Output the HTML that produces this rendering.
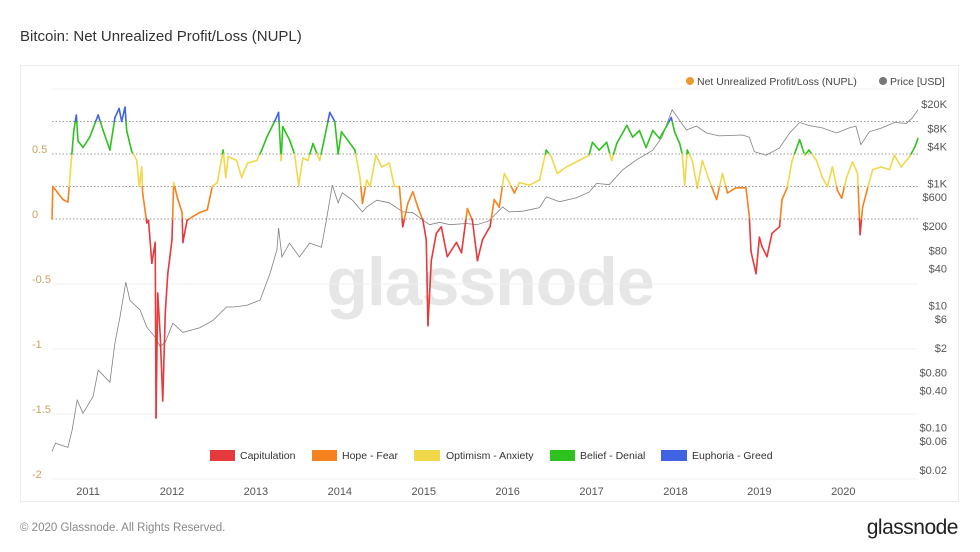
<!DOCTYPE html>
<html><head><meta charset="utf-8"><style>
body{margin:0;background:#fff;width:980px;height:552px;overflow:hidden;font-family:"Liberation Sans",sans-serif}
svg{position:absolute;left:0;top:0}
</style></head><body>
<svg id="chart" width="980" height="552" viewBox="0 0 980 552">
<text x="20" y="41" font-size="15" fill="#333">Bitcoin: Net Unrealized Profit/Loss (NUPL)</text>
<rect x="20.5" y="65.5" width="938" height="436" fill="#fff" stroke="#ececec"/>
<text x="490" y="305" font-size="68" fill="#e6e6e6" text-anchor="middle" font-weight="bold" letter-spacing="-1">glassnode</text>
<g id="grid"></g>
<g id="axes"></g>
<g id="price"></g>
<g id="nupl"></g>
<g>
<circle cx="690" cy="81" r="4" fill="#f0962e"/>
<text x="697" y="85" font-size="10.5" fill="#444">Net Unrealized Profit/Loss (NUPL)</text>
<circle cx="883" cy="81" r="4" fill="#777"/>
<text x="890" y="85" font-size="10.5" fill="#444">Price [USD]</text>
</g>
<g>
<rect x="210" y="450" width="25" height="11" fill="#e5393b"/>
<text x="240" y="459" font-size="10.5" fill="#333">Capitulation</text>
<rect x="312" y="450" width="25" height="11" fill="#f5821f"/>
<text x="342" y="459" font-size="10.5" fill="#333">Hope - Fear</text>
<rect x="414" y="450" width="26" height="11" fill="#f0d84a"/>
<text x="446" y="459" font-size="10.5" fill="#333">Optimism - Anxiety</text>
<rect x="550" y="450" width="25" height="11" fill="#2ec21e"/>
<text x="580" y="459" font-size="10.5" fill="#333">Belief - Denial</text>
<rect x="661" y="450" width="26" height="11" fill="#3f63e3"/>
<text x="692" y="459" font-size="10.5" fill="#333">Euphoria - Greed</text>
</g>
<text x="20" y="531" font-size="11.5" fill="#888">© 2020 Glassnode. All Rights Reserved.</text>
<text x="958" y="534" font-size="21" fill="#222" text-anchor="end" letter-spacing="-0.5">glassnode</text>
</svg>
<script>
const nuplDates=[2010.57,2010.58,2010.64,2010.70,2010.76,2010.80,2010.83,2010.86,2010.88,2010.94,2011.02,2011.12,2011.18,2011.26,2011.32,2011.37,2011.40,2011.44,2011.46,2011.52,2011.58,2011.61,2011.64,2011.65,2011.70,2011.72,2011.76,2011.80,2011.81,2011.83,2011.86,2011.89,2011.92,2011.95,2012.00,2012.02,2012.07,2012.12,2012.13,2012.18,2012.25,2012.33,2012.42,2012.48,2012.54,2012.61,2012.64,2012.67,2012.77,2012.83,2012.90,2013.01,2013.07,2013.13,2013.23,2013.27,2013.30,2013.32,2013.40,2013.46,2013.51,2013.56,2013.62,2013.68,2013.76,2013.82,2013.88,2013.94,2013.98,2014.02,2014.09,2014.18,2014.24,2014.27,2014.32,2014.36,2014.43,2014.50,2014.59,2014.65,2014.71,2014.75,2014.81,2014.87,2014.93,2014.99,2015.03,2015.05,2015.09,2015.15,2015.21,2015.28,2015.39,2015.45,2015.52,2015.58,2015.64,2015.70,2015.77,2015.79,2015.84,2015.90,2015.96,2016.02,2016.08,2016.14,2016.26,2016.38,2016.46,2016.52,2016.59,2016.70,2016.85,2016.97,2017.01,2017.09,2017.18,2017.24,2017.30,2017.42,2017.49,2017.57,2017.65,2017.73,2017.81,2017.89,2017.95,2017.99,2018.05,2018.08,2018.11,2018.14,2018.20,2018.26,2018.32,2018.40,2018.49,2018.56,2018.62,2018.72,2018.84,2018.88,2018.90,2018.96,2019.00,2019.03,2019.09,2019.15,2019.24,2019.27,2019.33,2019.39,2019.48,2019.54,2019.59,2019.68,2019.75,2019.81,2019.87,2019.93,2019.98,2020.04,2020.11,2020.17,2020.20,2020.23,2020.29,2020.35,2020.45,2020.55,2020.61,2020.69,2020.79,2020.85,2020.89];
const nuplValues=[0.0,0.25,0.2,0.15,0.13,0.45,0.68,0.8,0.6,0.55,0.63,0.8,0.68,0.53,0.78,0.85,0.75,0.86,0.68,0.52,0.45,0.25,0.4,0.2,-0.03,-0.01,-0.34,-0.18,-1.53,-0.57,-0.9,-1.4,-0.72,-0.42,-0.16,0.28,0.15,0.05,-0.18,-0.01,0.02,0.05,0.07,0.25,0.28,0.53,0.32,0.48,0.45,0.32,0.43,0.45,0.53,0.63,0.76,0.82,0.45,0.71,0.61,0.5,0.26,0.47,0.45,0.58,0.45,0.63,0.82,0.75,0.5,0.67,0.61,0.53,0.32,0.12,0.3,0.25,0.49,0.4,0.43,0.25,0.25,-0.06,0.12,0.21,0.09,-0.01,-0.16,-0.82,-0.32,-0.11,-0.06,-0.29,-0.18,-0.26,0.08,-0.01,-0.32,-0.16,-0.08,-0.06,0.15,0.09,0.35,0.28,0.2,0.28,0.26,0.3,0.53,0.48,0.35,0.4,0.45,0.49,0.59,0.53,0.59,0.45,0.58,0.72,0.63,0.68,0.55,0.68,0.62,0.71,0.78,0.67,0.58,0.5,0.26,0.53,0.45,0.24,0.45,0.3,0.15,0.35,0.2,0.24,0.24,0.02,-0.25,-0.42,-0.14,-0.21,-0.29,-0.11,-0.06,0.15,0.24,0.45,0.61,0.49,0.53,0.45,0.32,0.25,0.4,0.22,0.16,0.32,0.44,0.35,-0.12,0.09,0.24,0.38,0.4,0.38,0.49,0.4,0.48,0.55,0.62];
const priceDates=[2010.57,2010.61,2010.76,2010.81,2010.87,2010.94,2011.06,2011.12,2011.26,2011.32,2011.38,2011.45,2011.50,2011.62,2011.70,2011.80,2011.86,2011.92,2012.01,2012.13,2012.33,2012.49,2012.65,2012.73,2012.89,2013.05,2013.17,2013.25,2013.27,2013.31,2013.40,2013.52,2013.64,2013.78,2013.84,2013.91,2013.98,2014.03,2014.15,2014.27,2014.32,2014.44,2014.59,2014.75,2014.87,2014.99,2015.07,2015.19,2015.31,2015.51,2015.63,2015.77,2015.82,2015.94,2016.02,2016.18,2016.38,2016.46,2016.62,2016.82,2016.97,2017.06,2017.21,2017.37,2017.53,2017.73,2017.84,2017.96,2018.02,2018.13,2018.25,2018.37,2018.52,2018.80,2018.88,2018.94,2019.08,2019.24,2019.36,2019.48,2019.59,2019.75,2019.92,2020.07,2020.15,2020.21,2020.31,2020.46,2020.61,2020.75,2020.82,2020.89];
const priceValues=[0.04,0.055,0.047,0.09,0.28,0.17,0.32,0.87,0.55,2.4,6.5,24,12,8.4,4.4,3.0,2.1,2.5,5.1,3.6,4.3,5.7,9.4,9.4,10,12.2,34,81,186,62,105,62,105,90,250,940,480,700,530,340,410,530,480,340,330,250,210,230,210,220,210,240,280,410,340,350,400,600,500,580,720,1000,950,1660,2400,3500,5800,16000,12300,7500,8700,6700,6000,6200,5700,3300,2900,3800,6700,10000,8900,8100,6700,8100,8700,4300,7000,8100,10000,9600,11700,16000];
const leftTicks=[0.5,0,-0.5,-1,-1.5,-2];
const leftTickLabels=["0.5","0","-0.5","-1","-1.5","-2"];
const rightTicks=[20000,8000,4000,1000,600,200,80,40,10,6,2,0.8,0.4,0.1,0.06,0.02];
const rightTickLabels=["$20K","$8K","$4K","$1K","$600","$200","$80","$40","$10","$6","$2","$0.80","$0.40","$0.10","$0.06","$0.02"];
const yearTicks=[2011,2012,2013,2014,2015,2016,2017,2018,2019,2020];
const zoneLines=[0.75,0.5,0.25,0];
const solidLines=[-0.5,-1,-1.5,-2];

const X0=52,X1=918,T0=2010.57,T1=2020.89;
const xS=t=>X0+(t-T0)*(X1-X0)/(T1-T0);
const yN=v=>219-130*v;
const yP=p=>348-61*Math.log10(p/2);
const NS='http://www.w3.org/2000/svg';
function mk(tag,parent,attrs){const e=document.createElementNS(NS,tag);for(const k in attrs)e.setAttribute(k,attrs[k]);parent.appendChild(e);return e;}
const grid=document.getElementById('grid'),axes=document.getElementById('axes');
let l=mk('line',grid,{x1:X0,x2:X1,y1:89,y2:89,stroke:'#f0f0f0'});


zoneLines.forEach(v=>{const g=mk('line',grid,{x1:X0,x2:X1,y1:yN(v),y2:yN(v),stroke:'#999','stroke-width':1,'stroke-dasharray':'1.5,2'});

});
solidLines.forEach(v=>{const g=mk('line',grid,{x1:X0,x2:X1,y1:yN(v),y2:yN(v),stroke:'#f0f0f0'});

});
leftTicks.forEach((v,i)=>{const t=mk('text',axes,{x:32,y:yN(v)-1,'font-size':11,fill:'#c9a15f'});t.textContent=leftTickLabels[i];

});
rightTicks.forEach((v,i)=>{const t=mk('text',axes,{x:947,y:yP(v)+4,'font-size':11,fill:'#555','text-anchor':'end'});t.textContent=rightTickLabels[i];

});
yearTicks.forEach(y=>{const t=mk('text',axes,{x:xS(y),y:495,'font-size':11,fill:'#555','text-anchor':'middle'});t.textContent=String(y);

});
const pg=document.getElementById('price');
const pp=mk('polyline',pg,{points:priceDates.map((d,i)=>xS(d).toFixed(1)+','+yP(priceValues[i]).toFixed(1)).join(' '),fill:'none',stroke:'#808080','stroke-width':0.8});


const colors=['#e5393b','#f5821f','#f0d84a','#2ec21e','#3f63e3'];
const th=[0,0.25,0.5,0.75];
const zone=v=>{let z=0;while(z<4&&v>=th[z])z++;return z;};
const ng=document.getElementById('nupl');
for(let i=0;i<nuplDates.length-1;i++){
  let t0=nuplDates[i],v0=nuplValues[i],t1=nuplDates[i+1],v1=nuplValues[i+1];
  const cuts=[0,1];
  th.forEach(h=>{if((v0-h)*(v1-h)<0)cuts.push((h-v0)/(v1-v0));});
  cuts.sort((a,b)=>a-b);
  for(let k=0;k<cuts.length-1;k++){
    const a=cuts[k],b=cuts[k+1],m=(a+b)/2;
    const s=mk('line',ng,{x1:xS(t0+(t1-t0)*a),y1:yN(v0+(v1-v0)*a),x2:xS(t0+(t1-t0)*b),y2:yN(v0+(v1-v0)*b),stroke:colors[zone(v0+(v1-v0)*m)],'stroke-width':1.6,'stroke-linecap':'round'});
    
    
  }
}
</script>
</body></html>
